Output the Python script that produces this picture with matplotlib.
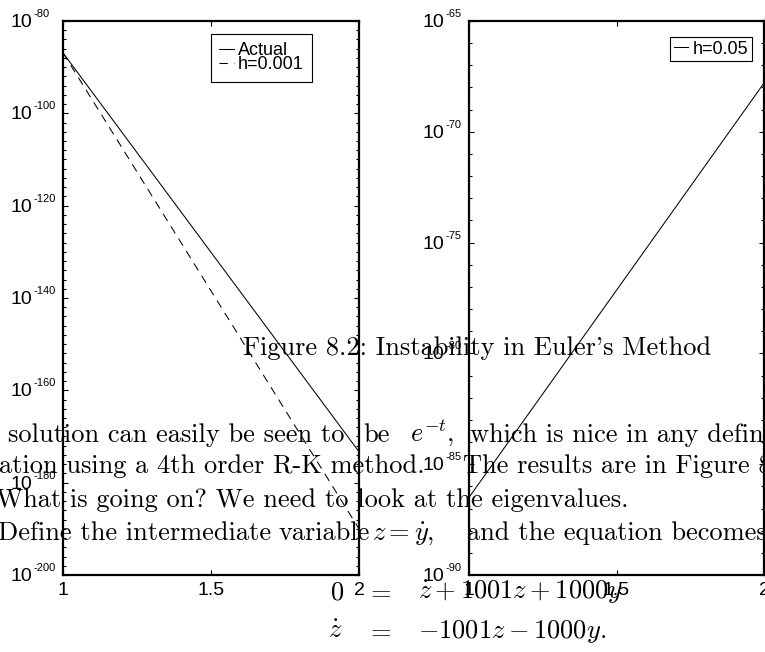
import matplotlib
matplotlib.use("Agg")
import matplotlib.pyplot as plt
from matplotlib.transforms import offset_copy
import numpy as np

# time span shared by both panels
t = [1.0, 2.0]

# left panel: exact solution and Euler with a small step (log10 values at t=1 and t=2)
actual_log = [-86.9, -173.3]
euler_fine_log = [-86.9, -190.0]

# right panel: Euler with a large step
euler_coarse_log = [-86.5, -67.8]

x_ticks = [1.0, 1.5, 2.0]
x_tick_labels = ["1", "1.5", "2"]
left_exps = [-80, -100, -120, -140, -160, -180, -200]
right_exps = [-65, -70, -75, -80, -85, -90]

plt.rcParams["font.family"] = ["Liberation Sans", "DejaVu Sans"]
plt.rcParams["lines.scale_dashes"] = False

fig = plt.figure(figsize=(7.65, 6.52), dpi=100)
W, H = 765.0, 652.0


def px_axes(x0, y0, x1, y1):
    return fig.add_axes([x0 / W, 1 - y1 / H, (x1 - x0) / W, (y1 - y0) / H])


def style_axes(ax, exps, minor_step, x_base):
    ax.set_yscale("log")
    ax.set_xlim(1, 2)
    ax.set_ylim(10.0 ** exps[-1], 10.0 ** exps[0])
    ax.set_xticks(x_ticks, labels=x_tick_labels, fontsize=14)
    ax.set_yticks([10.0 ** e for e in exps], labels=[])
    minor = [10.0 ** e for e in range(exps[-1], exps[0] + 1, minor_step) if e not in exps]
    ax.set_yticks(minor, labels=[], minor=True)
    ax.tick_params(which="both", direction="in", top=True, right=True, width=0.8)
    ax.tick_params(which="major", length=3.6, pad=5)
    ax.tick_params(which="minor", length=2.2)
    for s in ax.spines.values():
        s.set_linewidth(1.6)
    # MATLAB-style labels: the "10" stays in place, the exponent hangs off to the right
    trans = ax.get_yaxis_transform()
    base_t = offset_copy(trans, fig=fig, y=-6, units="dots")
    sup_t = offset_copy(trans, fig=fig, x=23, y=4, units="dots")
    for e in exps:
        ax.text(x_base, 10.0 ** e, "10", transform=base_t, ha="left", va="baseline",
                fontsize=14, clip_on=False)
        ax.text(x_base, 10.0 ** e, str(e), transform=sup_t, ha="left", va="baseline",
                fontsize=8, clip_on=False)


ax1 = px_axes(63, 21, 359, 575)
ax1.plot(t, [10.0 ** v for v in actual_log], color="black", lw=0.75, label="Actual")
ax1.plot(t, [10.0 ** v for v in euler_fine_log], color="black", lw=0.75,
         dashes=(6, 4.5), label="h=0.001")
style_axes(ax1, left_exps, 2, (10 - 63) / 296)
leg1 = ax1.legend(loc="upper right", bbox_to_anchor=((312 - 63) / 296, (575 - 34) / 554),
                  borderaxespad=0, fontsize=13, fancybox=False, edgecolor="black",
                  framealpha=1, handlelength=0.8, handletextpad=0.25,
                  labelspacing=-0.15, borderpad=0.45)
leg1.get_frame().set_linewidth(0.8)

ax2 = px_axes(469, 21, 764, 575)
ax2.plot(t, [10.0 ** v for v in euler_coarse_log], color="black", lw=0.75, label="h=0.05")
style_axes(ax2, right_exps, 1, (422 - 469) / 295)
leg2 = ax2.legend(loc="upper right", bbox_to_anchor=((752 - 469) / 295, (575 - 37) / 554),
                  borderaxespad=0, fontsize=13, fancybox=False, edgecolor="black",
                  framealpha=1, handlelength=0.8, handletextpad=0.25, borderpad=0.2)
leg2.get_frame().set_linewidth(0.8)

# page text printed across the panels (justified lines are set piece by piece)
body = dict(fontsize=19.0, fontfamily="cmr10", math_fontfamily="cm", color="black",
            ha="left", va="baseline", zorder=10)


def page_text(y, pieces):
    for x, s in pieces:
        fig.text(x / W, 1 - y / H, s, **body)


page_text(355, [(243, "Figure 8.2: Instability in Euler's Method")])
page_text(442, [(8, "solution can easily be seen to"),
                (363, "be"),
                (410, r"$e^{-t}$,"),
                (470, "which is nice in any definition")])
page_text(473, [(-1, "ation using a 4th order R-K method."),
                (463, "The results are in Figure 8.3")])
page_text(507, [(-4, "What is going on? We need to look at the eigenvalues.")])
page_text(540, [(-2, "Define the intermediate"),
                (279, "variable"),
                (372, r"$z = \dot{y}$,"),
                (467, "and the equation becomes")])

page_text(599, [(330, r"$0$"), (366, r"$=$"), (418, r"$\dot{z} + 1001z + 1000y$")])
page_text(638, [(328, r"$\dot{z}$"), (366, r"$=$"), (418, r"$-1001z - 1000y.$")])

fig.savefig("out.png", dpi=100)
